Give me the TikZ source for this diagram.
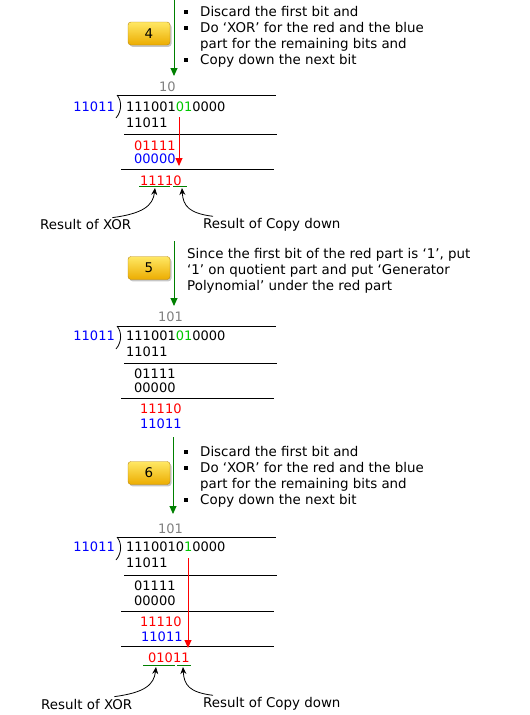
\documentclass[tikz,border=0pt]{standalone}
\usepackage{fontspec}
\setmainfont{DejaVu Sans}
\usetikzlibrary{arrows.meta,positioning,shadows}
\definecolor{btntop}{RGB}{255,232,100}
\definecolor{btnbot}{RGB}{236,172,0}
\definecolor{btnedge}{RGB}{185,135,15}
\definecolor{arrowgreen}{RGB}{0,128,0}
\definecolor{bitgreen}{RGB}{0,200,0}
\definecolor{quotgray}{RGB}{128,128,128}
\newcommand{\bulsq}{\makebox[16pt][l]{\rule[2.8pt]{4pt}{4pt}}}

\begin{document}
\begin{tikzpicture}[x=1pt, y=-1pt, >={Triangle[width=7pt,length=8pt]},
    font=\fontsize{13.4}{16}\selectfont,
    btn/.style={draw=btnedge, rounded corners=3pt, top color=btntop, bottom color=btnbot, minimum width=42pt, minimum height=23pt, inner sep=0pt, drop shadow={shadow xshift=1.5pt, shadow yshift=-1.8pt, opacity=0.45}},
    note/.style={anchor=north west, align=left, inner sep=0pt},
    bits/.style={anchor=west, inner sep=0pt, font=\fontsize{13}{16}\selectfont},
    quot/.style={bits, text=quotgray},
    lbl/.style={anchor=west, inner sep=1pt},
    divline/.style={line width=0.8pt},
    underl/.style={draw=arrowgreen, line width=0.9pt},
    steparrow/.style={->, draw=arrowgreen, fill=arrowgreen, line width=0.9pt},
    copyarrow/.style={->, draw=red, fill=red, line width=0.9pt},
    pointer/.style={-{Stealth[length=7pt,width=6pt]}, line width=0.8pt}]

    \useasboundingbox (0,0) rectangle (530,715);

    % ---------- step 4 ----------
    \coordinate (s4top) at (174,0);
    \coordinate (s4end) at (174,76);
    \draw[steparrow] (s4top) -- (s4end);
    \node[btn] (b4) at (149,33.5) {4};
    \node[note] (n4) at (184,6.3) {\bulsq Discard the first bit and\\
        \bulsq Do ‘XOR’ for the red and the blue\\
        \hspace*{16pt}part for the remaining bits and\\
        \bulsq Copy down the next bit};

    \node[quot] (q4) at (159,87) {10};
    \draw[divline] (117,95) -- (276,95);
    \draw[divline] (117,95) .. controls (122,101) and (122,111) .. (116,118);
    \node[bits, anchor=east, text=blue] (g4) at (115,107) {11011};
    \node[bits] (d4) at (126,107) {111001\textcolor{bitgreen}{01}0000};
    \node[bits] (p4a) at (126,123) {11011};
    \draw[divline] (124,134) -- (277,134);
    \node[bits, text=red] (r4a) at (134,146) {01111};
    \node[bits, text=blue] (p4b) at (134,159) {00000};
    \draw[divline] (121,169) -- (274,169);
    \node[bits, text=red] (r4b) at (140,181) {11110};

    % copy down
    \coordinate (c4top) at (179,117);
    \coordinate (c4end) at (179,166);
    \draw[copyarrow] (c4top) -- (c4end);

    \draw[underl] (139,186) -- (170,186);
    \draw[underl] (173,186) -- (187,186);
    \coordinate (u4a) at (155,188);
    \coordinate (u4b) at (182,188);

    \node[lbl] (lx4) at (39,225) {Result of XOR};
    \node[lbl] (lc4) at (202,225) {Result of Copy down};
    \draw[pointer] ([xshift=-20pt,yshift=1pt]lx4.north east) .. controls +(30,-4) and +(-2,18) .. (u4a);
    \draw[pointer] ([xshift=11pt,yshift=1pt]lc4.north west) .. controls +(-24,-3) and +(1,18) .. (u4b);

    % ---------- step 5 ----------
    \coordinate (s5top) at (174,241);
    \coordinate (s5end) at (174,306);
    \draw[steparrow] (s5top) -- (s5end);
    \node[btn] (b5) at (149,268) {5};
    \node[note] (n5) at (187,248.3) {Since the first bit of the red part is ‘1’, put\\
        ‘1’ on quotient part and put ‘Generator\\
        Polynomial’ under the red part};

    \node[quot] (q5) at (158,317) {101};
    \draw[divline] (117,326) -- (276,326);
    \draw[divline] (117,326) .. controls (122,332) and (122,342) .. (116,349);
    \node[bits, anchor=east, text=blue] (g5) at (115,336) {11011};
    \node[bits] (d5) at (126,336) {111001\textcolor{bitgreen}{01}0000};
    \node[bits] (p5a) at (126,352) {11011};
    \draw[divline] (124,363) -- (277,363);
    \node[bits] (r5a) at (134,374) {01111};
    \node[bits] (p5b) at (134,388) {00000};
    \draw[divline] (121,398) -- (274,398);
    \node[bits, text=red] (r5b) at (140,409) {11110};
    \node[bits, text=blue] (p5c) at (140,424) {11011};

    % ---------- step 6 ----------
    \coordinate (s6top) at (173,437);
    \coordinate (s6end) at (173,514);
    \draw[steparrow] (s6top) -- (s6end);
    \node[btn] (b6) at (149,473) {6};
    \node[note] (n6) at (184,446.3) {\bulsq Discard the first bit and\\
        \bulsq Do ‘XOR’ for the red and the blue\\
        \hspace*{16pt}part for the remaining bits and\\
        \bulsq Copy down the next bit};

    \node[quot] (q6) at (158,529) {101};
    \draw[divline] (117,537) -- (276,537);
    \draw[divline] (117,537) .. controls (122,543) and (122,553) .. (116,560);
    \node[bits, anchor=east, text=blue] (g6) at (115,547) {11011};
    \node[bits] (d6) at (126,547) {1110010\textcolor{bitgreen}{1}0000};
    \node[bits] (p6a) at (126,563) {11011};
    \draw[divline] (124,575) -- (277,575);
    \node[bits] (r6a) at (134,586) {01111};
    \node[bits] (p6b) at (134,601) {00000};
    \draw[divline] (121,611) -- (274,611);
    \node[bits, text=red] (r6b) at (140,622) {11110};
    \node[bits, text=blue] (p6c) at (141,637) {11011};
    \draw[divline] (121,646) -- (274,646);
    \node[bits, text=red] (r6c) at (148,658) {01011};

    % copy down
    \coordinate (c6top) at (188,558);
    \coordinate (c6end) at (188,648);
    \draw[copyarrow] (c6top) -- (c6end);

    \draw[underl] (143,665) -- (175,665);
    \draw[underl] (177,665) -- (191,665);
    \coordinate (u6a) at (156,667);
    \coordinate (u6b) at (183,667);

    \node[lbl] (lx6) at (40,704) {Result of XOR};
    \node[lbl] (lc6) at (202,704) {Result of Copy down};
    \draw[pointer] ([xshift=-19pt,yshift=1pt]lx6.north east) .. controls +(30,-4) and +(-2,18) .. (u6a);
    \draw[pointer] ([xshift=11pt,yshift=1pt]lc6.north west) .. controls +(-24,-3) and +(1,18) .. (u6b);
\end{tikzpicture}
\end{document}
